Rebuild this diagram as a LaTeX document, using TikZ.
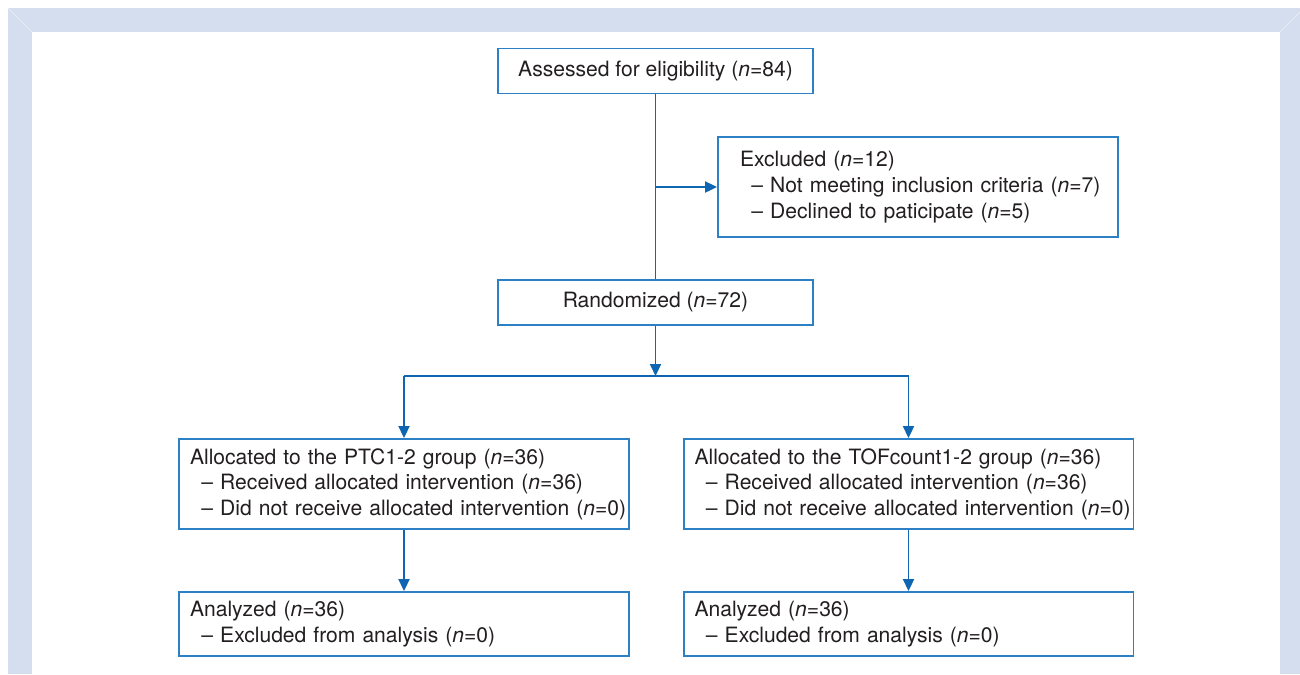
\documentclass[tikz,border=0pt]{standalone}
\usepackage{fontspec}
\setmainfont{TeX Gyre Heros}
\usetikzlibrary{arrows.meta, positioning, calc}

\definecolor{frameblue}{RGB}{213,222,238}
\definecolor{boxblue}{RGB}{45,128,198}
\definecolor{lineblue}{RGB}{14,101,178}
\definecolor{txtgray}{RGB}{35,31,32}

\tikzset{
  box/.style={draw=boxblue, line width=1.1pt, fill=white, text=txtgray,
    font=\fontsize{12}{14.6}\selectfont, inner sep=0pt},
  cbox/.style={box, minimum width=6.3cm, minimum height=0.9cm, align=center},
  lbox/.style={box, minimum width=9cm, text width=8.56cm, align=left},
  link/.style={draw=lineblue, line width=1.1pt},
  arr/.style={link, -{Triangle[length=0.24cm,width=0.22cm]}}
}
\newcommand{\subline}[1]{\mbox{\hspace*{6.5pt}– #1}}

\begin{document}
\begin{tikzpicture}[x=0.02cm, y=-0.02cm]
	\useasboundingbox (0,0) rectangle (1300,674);
	% frame
	\fill[frameblue] (8,8) rectangle (1300,674);
	\fill[white] (32,32) rectangle (1280,674);
	\draw[white, opacity=0.5, line width=0.4pt] (8,8) -- (32,32) (1300,12) -- (1280,32);

	\node[cbox] (assess) at (655.5,71) {Assessed for eligibility (\textit{n}=84)};
	\node[box, minimum width=8cm, minimum height=2cm, text width=7.12cm, align=left] (excl) at (918,187)
		{Excluded (\textit{n}=12)\\
		\subline{Not meeting inclusion criteria (\textit{n}=7)}\\
		\subline{Declined to paticipate (\textit{n}=5)}};
	\node[cbox] (rand) at (655.5,302.5) {Randomized (\textit{n}=72)};
	\node[lbox, minimum height=1.8cm] (ptc) at (404,484)
		{Allocated to the PTC1-2 group (\textit{n}=36)\\
		\subline{Received allocated intervention (\textit{n}=36)}\\
		\subline{Did not receive allocated intervention (\textit{n}=0)}};
	\node[lbox, minimum height=1.8cm] (tof) at (908.5,484)
		{Allocated to the TOFcount1-2 group (\textit{n}=36)\\
		\subline{Received allocated intervention (\textit{n}=36)}\\
		\subline{Did not receive allocated intervention (\textit{n}=0)}};
	\node[lbox, minimum height=1.28cm] (anl) at (404,624)
		{Analyzed (\textit{n}=36)\\
		\subline{Excluded from analysis (\textit{n}=0)}};
	\node[lbox, minimum height=1.28cm] (anr) at (908.5,624)
		{Analyzed (\textit{n}=36)\\
		\subline{Excluded from analysis (\textit{n}=0)}};

	\coordinate (split) at (655.5,376);
	\draw[link] (assess) -- (rand);
	\draw[arr] (assess.south |- excl.west) -- (excl.west);
	\draw[arr] (rand) -- (split);
	\draw[link] (ptc.north |- split) -- (tof.north |- split);
	\draw[arr] (ptc.north |- split) -- (ptc.north);
	\draw[arr] (tof.north |- split) -- (tof.north);
	\draw[arr] (ptc) -- (anl);
	\draw[arr] (tof) -- (anr);
\end{tikzpicture}
\end{document}
